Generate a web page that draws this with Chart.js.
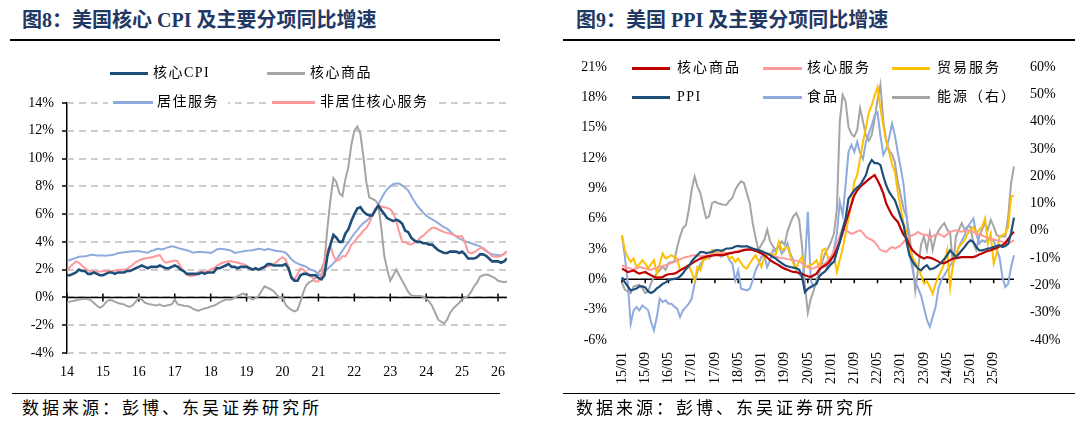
<!DOCTYPE html>
<html lang="zh-CN">
<head>
<meta charset="utf-8">
<title>美国核心 CPI 与 PPI 分项同比增速</title>
<script src="https://cdn.jsdelivr.net/npm/chart.js@4.4.1/dist/chart.umd.min.js"></script>
<style>
  html, body { margin: 0; padding: 0; background: #fff; }
  #page {
    position: relative; width: 1080px; height: 424px; overflow: hidden;
    font-family: "Liberation Serif", "Noto Sans CJK SC", serif;
  }
  .title {
    position: absolute; top: 8px; font-size: 20px; line-height: 24px;
    font-weight: bold; color: #1F3864; white-space: nowrap;
  }
  .rule { position: absolute; height: 0; border-top: 2.5px solid #000; }
  .rule.bottom { border-top-width: 1.5px; }
  .source {
    position: absolute; top: 399px; font-size: 17px; line-height: 20px;
    letter-spacing: 3px; color: #000; white-space: nowrap;
  }
  .chart-box { position: absolute; }
  .chart-box canvas { display: block; }
  .lg-line { position: absolute; height: 2.5px; }
  .lg-text {
    position: absolute; font-size: 14px; line-height: 16px; letter-spacing: 1.5px;
    color: #000; white-space: nowrap;
  }
  .lg-bg { position: absolute; background: #fff; height: 18px; }
</style>
</head>
<body>
<div id="page">
  <!-- 左图 -->
  <div class="title" style="left:22px">图8：美国核心 CPI 及主要分项同比增速</div>
  <div class="rule" style="left:10px; top:39px; width:490px"></div>

  <div class="chart-box" style="left:0; top:90px; width:530px; height:300px">
    <canvas id="cpi-chart" width="530" height="300"></canvas>
  </div>

  <!-- 左图图例 -->
  <div class="lg-line" style="left:110px; top:72px; width:38px; height:3px; background:#1F4E79"></div>
  <div class="lg-text" style="left:153px; top:65px">核心CPI</div>
  <div class="lg-line" style="left:267px; top:72px; width:38px; background:#A5A5A5"></div>
  <div class="lg-text" style="left:310px; top:65px">核心商品</div>
  <div class="lg-bg" style="left:108px; top:93px; width:120px"></div>
  <div class="lg-line" style="left:113px; top:101px; width:40px; background:#8FAADC"></div>
  <div class="lg-text" style="left:157px; top:94px">居住服务</div>
  <div class="lg-bg" style="left:268px; top:93px; width:170px"></div>
  <div class="lg-line" style="left:272px; top:101px; width:43px; background:#FF9999"></div>
  <div class="lg-text" style="left:320px; top:94px">非居住核心服务</div>

  <div class="rule bottom" style="left:12px; top:393px; width:488px"></div>
  <div class="source" style="left:22px">数据来源：彭博、东吴证券研究所</div>

  <!-- 右图 -->
  <div class="title" style="left:576px">图9：美国 PPI 及主要分项同比增速</div>
  <div class="rule" style="left:563px; top:39px; width:512px"></div>

  <div class="chart-box" style="left:560px; top:50px; width:520px; height:345px">
    <canvas id="ppi-chart" width="520" height="345"></canvas>
  </div>

  <!-- 右图图例 -->
  <div class="lg-line" style="left:632px; top:67px; width:38px; background:#C00000"></div>
  <div class="lg-text" style="left:677px; top:60px; letter-spacing:2px">核心商品</div>
  <div class="lg-line" style="left:763px; top:67px; width:39px; background:#FF9999"></div>
  <div class="lg-text" style="left:807px; top:60px; letter-spacing:2px">核心服务</div>
  <div class="lg-line" style="left:892px; top:67px; width:38px; background:#FFC000"></div>
  <div class="lg-text" style="left:937px; top:60px; letter-spacing:2px">贸易服务</div>
  <div class="lg-line" style="left:632px; top:96px; width:38px; background:#1F4E79"></div>
  <div class="lg-text" style="left:677px; top:89px">PPI</div>
  <div class="lg-line" style="left:763px; top:96px; width:39px; background:#8FAADC"></div>
  <div class="lg-text" style="left:807px; top:89px; letter-spacing:2px">食品</div>
  <div class="lg-line" style="left:892px; top:96px; width:38px; background:#A5A5A5"></div>
  <div class="lg-text" style="left:937px; top:89px; letter-spacing:2px">能源（右）</div>

  <div class="rule bottom" style="left:563px; top:393px; width:512px"></div>
  <div class="source" style="left:576px">数据来源：彭博、东吴证券研究所</div>
</div>

<script>
// ---------- 图8 数据：2014/01 - 2026/04，月度同比 % ----------
const cpiYearLabels = ["14", "15", "16", "17", "18", "19", "20", "21", "22", "23", "24", "25", "26"];

const coreCpi = [
  1.6, 1.6, 1.7, 1.8, 2.0, 1.9, 1.9, 1.7, 1.7, 1.8, 1.7, 1.6,
  1.6, 1.7, 1.8, 1.8, 1.7, 1.8, 1.8, 1.8, 1.9, 1.9, 2.0, 2.1,
  2.2, 2.3, 2.2, 2.1, 2.2, 2.2, 2.2, 2.3, 2.2, 2.1, 2.1, 2.2,
  2.3, 2.2, 2.0, 1.9, 1.7, 1.7, 1.7, 1.7, 1.7, 1.8, 1.7, 1.8,
  1.8, 1.8, 2.1, 2.1, 2.2, 2.3, 2.4, 2.2, 2.2, 2.1, 2.2, 2.2,
  2.2, 2.1, 2.0, 2.1, 2.0, 2.1, 2.2, 2.4, 2.4, 2.3, 2.3, 2.3,
  2.3, 2.4, 2.1, 1.4, 1.2, 1.2, 1.6, 1.7, 1.7, 1.6, 1.6, 1.6,
  1.4, 1.3, 1.6, 3.0, 3.8, 4.5, 4.3, 4.0, 4.0, 4.6, 4.9, 5.5,
  6.0, 6.4, 6.5, 6.2, 6.0, 5.9, 5.9, 6.3, 6.6, 6.3, 6.0, 5.7,
  5.6, 5.5, 5.6, 5.5, 5.3, 4.8, 4.7, 4.3, 4.1, 4.0, 4.0, 3.9,
  3.9, 3.8, 3.8, 3.6, 3.4, 3.3, 3.2, 3.2, 3.3, 3.3, 3.3, 3.2,
  3.3, 3.1, 2.8, 2.8, 2.8, 2.9, 3.1, 3.1, 3.0, 2.8, 2.6, 2.6,
  2.6, 2.5, 2.6, 2.8
];

const coreGoodsCpi = [
  -0.35, -0.3, -0.25, -0.2, -0.15, -0.12, -0.1, -0.12, -0.2, -0.4, -0.6, -0.74,
  -0.62, -0.35, -0.18, -0.2, -0.3, -0.4, -0.45, -0.5, -0.62, -0.67, -0.55, -0.3,
  -0.02, -0.15, -0.38, -0.45, -0.5, -0.55, -0.58, -0.5, -0.62, -0.6, -0.55, -0.5,
  -0.15, -0.5, -0.55, -0.6, -0.62, -0.67, -0.8, -0.9, -0.95, -0.86, -0.8, -0.74,
  -0.65, -0.6, -0.5, -0.35, -0.25, -0.15, -0.14, -0.14, -0.02, 0.1, 0.2, 0.29,
  0.1, 0.0, -0.14, -0.05, 0.1, 0.46, 0.8, 0.7, 0.6, 0.46, 0.2, 0.0,
  0.0, -0.5, -0.75, -0.9, -1.0, -0.9, -0.3, 0.4, 0.9, 1.1, 1.2, 1.4,
  1.8, 2.0, 2.6, 5.0, 7.0, 8.6, 8.3, 7.5, 7.3, 8.5, 9.4, 11.0,
  12.0, 12.3, 11.8, 10.2, 8.3, 7.2, 7.1, 7.0, 6.7, 5.0, 3.0, 2.0,
  1.2, 1.6, 2.0, 1.6, 1.2, 0.8, 0.4, 0.15, 0.1, 0.1, 0.1, 0.05,
  -0.1, -0.3, -0.62, -1.1, -1.6, -1.75, -1.87, -1.6, -1.1, -0.8, -0.6, -0.4,
  -0.14, -0.02, 0.1, 0.4, 0.8, 1.06, 1.5, 1.6, 1.65, 1.6, 1.5, 1.4,
  1.2, 1.15, 1.1, 1.15
];

const shelterCpi = [
  2.6, 2.7, 2.78, 2.85, 2.93, 2.95, 2.97, 3.0, 3.08, 3.06, 3.02, 3.02,
  3.02, 3.0, 3.03, 3.05, 3.1, 3.2, 3.22, 3.25, 3.28, 3.3, 3.32, 3.33,
  3.33, 3.3, 3.25, 3.22, 3.35, 3.4, 3.5, 3.48, 3.45, 3.55, 3.62, 3.68,
  3.65, 3.57, 3.5, 3.45, 3.4, 3.33, 3.22, 3.25, 3.28, 3.27, 3.25, 3.23,
  3.21, 3.3, 3.45, 3.5, 3.48, 3.45, 3.42, 3.35, 3.21, 3.25, 3.28, 3.33,
  3.37, 3.38, 3.4, 3.45, 3.5, 3.48, 3.4, 3.5, 3.45, 3.4, 3.35, 3.33,
  3.3, 3.22, 3.0, 2.75, 2.55, 2.45, 2.35, 2.28, 2.2, 2.05, 1.95, 1.89,
  1.6, 1.65, 1.85, 2.05, 2.25, 2.45, 2.7, 3.05, 3.35, 3.69, 3.95, 4.3,
  4.6, 4.85, 5.13, 5.35, 5.5, 5.7, 5.95, 6.21, 6.7, 7.1, 7.5, 7.8,
  8.0, 8.15, 8.2, 8.2, 8.05, 7.9, 7.7, 7.3, 6.95, 6.6, 6.35, 6.1,
  5.9, 5.75, 5.62, 5.5, 5.35, 5.2, 5.05, 4.95, 4.75, 4.55, 4.4, 4.25,
  4.15, 4.05, 3.97, 3.9, 3.83, 3.75, 3.68, 3.5, 3.35, 3.2, 3.12, 3.08,
  3.05, 3.02, 3.15, 3.33
];

const nonShelterServicesCpi = [
  1.9, 2.2, 2.4, 2.6, 2.5, 2.3, 2.1, 1.95, 1.9, 1.85, 1.85, 1.87,
  1.89, 1.88, 1.9, 1.9, 1.92, 1.97, 2.0, 2.0, 2.05, 2.2, 2.35, 2.55,
  2.65, 2.75, 2.8, 2.85, 2.88, 2.93, 3.0, 3.05, 2.7, 2.5, 2.55, 2.6,
  2.65, 2.6, 2.2, 1.9, 1.65, 1.55, 1.55, 1.6, 1.85, 1.78, 1.85, 1.9,
  2.0, 2.1, 2.25, 2.4, 2.5, 2.55, 2.6, 2.6, 2.55, 2.5, 2.45, 2.4,
  2.3, 2.1, 2.05, 2.0, 2.03, 2.1, 2.15, 2.25, 2.3, 2.4, 2.55, 2.75,
  2.9, 2.75, 2.2, 1.5, 1.3, 1.65, 2.1, 2.0, 1.8, 1.6, 1.45, 1.15,
  1.15, 1.6, 2.6, 3.45, 3.7, 3.0, 2.65, 2.7, 2.97, 2.97, 3.3, 3.8,
  4.0, 4.3, 4.53, 4.8, 5.0, 5.35, 5.9, 6.35, 6.65, 6.55, 6.5, 6.45,
  6.35, 6.1, 5.5, 4.7, 4.0, 4.0, 3.85, 3.81, 3.95, 4.05, 4.3, 4.45,
  4.65, 4.85, 5.01, 5.01, 4.9, 4.8, 4.7, 4.65, 4.6, 4.5, 4.41, 4.41,
  4.41, 3.95, 3.25, 3.17, 3.25, 3.4, 3.55, 3.57, 3.4, 3.2, 2.97, 2.93,
  2.93, 3.0, 3.1, 3.33
];

// ---------- 图9 数据：2015/01 - 2026/04，月度同比 % ----------
const ppiTickEvery = 8;
const ppiMonthLabels = [];
for (let i = 0; i < 136; i++) {
  const yy = 15 + Math.floor(i / 12);
  const mm = (i % 12) + 1;
  ppiMonthLabels.push(yy + "/" + String(mm).padStart(2, "0"));
}

const ppi = [
  0.2, -0.3, -0.7, -1.1, -1.0, -0.9, -0.7, -0.7, -0.8, -1.2, -1.35, -1.2,
  -0.9, -0.7, -0.45, -0.3, -0.1, 0.0, 0.05, 0.1, 0.3, 0.6, 1.0, 1.3,
  1.8, 2.1, 2.4, 2.7, 2.7, 2.6, 2.65, 2.7, 2.85, 2.9, 2.82, 2.9,
  3.05, 3.06, 3.1, 3.25, 3.3, 3.23, 3.25, 3.29, 3.16, 3.05, 2.96, 2.89,
  2.8, 2.65, 2.55, 2.4, 2.2, 2.05, 1.8, 1.6, 1.4, 1.3, 1.22, 1.16,
  1.1, 0.96, 0.3, -1.26, -0.95, -0.76, -0.6, -0.43, 0.3, 0.6, 0.8, 1.2,
  1.5, 1.72, 2.7, 3.7, 5.0, 6.0, 7.98, 8.4, 8.8, 9.1, 9.31, 9.8,
  10.3, 11.3, 11.8, 11.5, 11.5, 11.3, 10.2, 9.3, 8.65, 8.2, 7.82, 7.0,
  6.1, 5.35, 3.7, 2.38, 1.8, 1.39, 1.06, 0.89, 1.2, 1.4, 1.0, 1.06,
  1.2, 1.4, 1.7, 2.0, 2.4, 2.87, 2.54, 2.2, 2.5, 2.87, 3.2, 3.6,
  3.86, 3.7, 3.2, 2.87, 2.87, 2.95, 3.04, 3.1, 3.2, 3.3, 3.37, 3.2,
  3.3, 3.5, 4.6, 6.1
];

const ppiCoreGoods = [
  1.06, 0.9, 0.73, 0.8, 0.89, 0.7, 0.56, 0.65, 0.73, 0.55, 0.4, 0.25,
  0.17, 0.2, 0.23, 0.4, 0.5, 0.53, 0.56, 0.7, 0.89, 1.05, 1.2, 1.4,
  1.56, 1.75, 1.9, 2.05, 2.16, 2.25, 2.3, 2.35, 2.39, 2.39, 2.39, 2.4,
  2.5, 2.56, 2.62, 2.7, 2.72, 2.8, 2.89, 2.93, 2.96, 2.9, 2.82, 2.7,
  2.56, 2.4, 2.16, 1.9, 1.72, 1.55, 1.39, 1.2, 1.06, 0.95, 0.83, 0.73,
  0.7, 0.63, 0.55, 0.4, 0.3, 0.23, 0.4, 0.56, 1.0, 1.2, 1.39, 1.6,
  2.0, 2.37, 3.0, 3.7, 4.6, 5.6, 6.5, 7.4, 8.3, 8.8, 9.14, 9.4,
  9.64, 9.9, 10.1, 10.3, 9.8, 9.2, 8.5, 7.5, 6.9, 6.34, 6.0, 5.68,
  5.0, 4.4, 4.03, 3.37, 2.9, 2.6, 2.37, 2.2, 2.05, 2.2, 2.15, 2.05,
  1.9, 1.75, 1.6, 1.6, 1.73, 1.9, 2.05, 2.1, 2.15, 2.2, 2.2, 2.2,
  2.2, 2.2, 2.3, 2.45, 2.55, 2.7, 2.8, 2.87, 3.0, 3.1, 3.25, 3.37,
  3.6, 4.0, 4.4, 4.7
];

const ppiCoreServices = [
  1.39, 1.25, 1.16, 1.05, 0.96, 1.1, 1.22, 1.15, 1.06, 1.0, 0.96, 1.05,
  1.16, 1.25, 1.32, 1.39, 1.5, 1.6, 1.72, 1.85, 2.0, 2.1, 2.2, 2.25,
  2.35, 2.39, 2.35, 2.3, 2.3, 2.35, 2.39, 2.45, 2.49, 2.52, 2.56, 2.58,
  2.6, 2.62, 2.66, 2.72, 2.8, 2.89, 2.93, 2.96, 2.94, 2.89, 2.8, 2.75,
  2.72, 2.6, 2.49, 2.4, 2.3, 2.25, 2.16, 2.1, 2.06, 2.0, 1.95, 1.9,
  1.85, 1.82, 1.6, 1.39, 1.2, 1.06, 1.1, 1.22, 1.3, 1.39, 1.6, 1.9,
  2.3, 2.8, 3.5, 4.3, 5.0, 4.9, 4.7, 4.5, 4.6, 4.75, 4.85, 4.6,
  4.2, 4.03, 3.9, 3.7, 3.3, 2.9, 2.8, 2.71, 3.0, 3.2, 3.04, 3.2,
  3.37, 3.7, 4.03, 4.2, 4.36, 4.5, 4.69, 4.5, 4.36, 4.43, 4.03, 4.3,
  4.4, 4.52, 4.35, 4.2, 4.45, 4.7, 4.78, 4.85, 4.75, 4.7, 4.78, 4.85,
  4.8, 4.7, 4.52, 4.45, 4.36, 4.2, 4.1, 4.03, 3.95, 3.86, 3.8, 3.7,
  3.6, 3.53, 3.7, 3.86
];

const ppiTradeServices = [
  4.36, 2.87, 2.2, 1.72, 2.06, 1.22, 1.5, 1.9, 1.56, 1.06, 1.5, 1.9,
  0.56, 1.56, 2.56, 2.06, 2.2, 2.39, 2.2, 2.06, 0.89, 1.06, 1.2, 1.39,
  0.7, -0.1, 1.22, 0.89, 1.9, 2.0, 2.23, 2.89, 2.7, 2.56, 2.6, 2.72,
  2.4, 2.06, 2.23, 1.72, 2.06, 1.6, 1.22, 1.06, 1.56, 2.0, 2.39, 1.8,
  1.22, 2.23, 2.4, 2.56, 2.39, 2.5, 3.72, 2.89, 3.05, 3.23, 2.3, 1.56,
  1.06, 1.8, 2.23, 1.22, 1.3, 1.39, 1.6, 1.9, 1.06, 2.89, 3.04, 2.05,
  2.2, 2.37, 0.73, 1.9, 3.04, 4.5, 6.0, 7.65, 9.64, 10.3, 11.9, 13.6,
  15.0, 16.5, 17.2, 18.2, 19.0, 16.9, 15.2, 13.6, 12.6, 11.4, 10.6, 8.6,
  7.0, 5.5, 4.69, 3.04, 2.2, 1.7, 1.06, 0.4, -0.43, -0.2, -0.76, -1.42,
  -0.43, 0.23, 0.9, 1.56, 2.87, -0.76, 1.56, 2.4, 3.2, 3.5, 3.86, 4.52,
  4.8, 5.18, 4.52, 4.9, 5.18, 6.01, 3.53, 4.52, 1.56, 2.54, 4.2, 4.4,
  4.52, 5.18, 8.15, 8.3
];

const ppiFood = [
  4.36, 2.23, -0.43, -4.39, -3.07, -2.74, -3.07, -2.58, -2.8, -3.07, -4.22, -5.05,
  -3.73, -1.91, -2.25, -2.08, -2.41, -2.41, -2.7, -2.9, -3.73, -3.07, -2.74, -2.41,
  -1.9, -0.43, 0.8, 1.5, 1.9, 2.23, 2.06, 2.39, 2.89, 2.56, 2.23, 2.4,
  2.56, 1.9, 1.56, -0.1, 0.89, -0.93, -1.0, -1.09, -0.93, -0.1, 0.89, 1.5,
  2.23, 2.39, 1.22, 1.9, 2.89, 2.72, 3.39, 2.56, 2.89, 3.56, 2.5, 1.9,
  0.89, 0.5, 0.23, 1.56, 6.67, -0.1, -0.76, -0.43, 0.8, 1.5, 1.5, 1.06,
  1.72, 3.04, 4.5, 7.66, 6.34, 9.31, 12.6, 13.3, 12.6, 13.6, 12.5, 11.9,
  13.6, 14.4, 15.2, 16.2, 16.5, 14.2, 12.3, 12.9, 14.0, 15.4, 14.2, 12.5,
  11.0, 9.31, 6.34, 2.7, 1.06, -0.26, -0.9, -1.6, -2.8, -4.0, -4.7, -3.73,
  -2.74, -0.9, 0.0, 0.4, 0.9, 1.39, 1.8, 2.2, 3.2, 3.8, 4.36, 5.18,
  5.6, 6.01, 4.52, 3.53, 3.86, 3.7, 4.03, 3.86, 3.86, 3.0, 2.2, 0.23,
  -0.76, -0.43, 1.22, 2.38
];

// 能源走右轴
const ppiEnergy = [
  -19, -21.6, -22.2, -22.8, -20.4, -20, -19.8, -21, -22.8, -22.2, -19.2, -17,
  -15.5, -14.5, -13.1, -14.3, -11.8, -11.5, -11.2, -6, -2, 1.0, 2.0, 7.7,
  15.0, 19.9, 16.2, 13.8, 8.9, 4.6, 5.3, 10.1, 10.7, 10.1, 9.8, 9.5,
  9.5, 11, 12.0, 15, 16.8, 18.1, 17.5, 13.8, 10.1, 2.8, -2.5, -7.0,
  -5.1, -3.3, 0.4, -3.9, -5.7, -7.0, -5.5, -3.9, -5.1, -0.2, 2.8, 5.3,
  6.5, 4.1, -5.7, -20, -30, -25, -22, -18, -15, -11.2, -8, -6.3,
  -4, -1, 8, 40, 49.8, 47.4, 38, 35.5, 34.5, 37, 44.9, 40,
  35, 33, 35, 41, 48, 53.5, 40, 33, 29.5, 28, 25, 18,
  13, 8, 5, -1.5, -11, -22, -13.7, -5, -2.1, -7, -0.8, -7,
  -2.1, 0, 1.6, 2.8, 0.4, -0.8, -13.1, -2.1, 0.4, 2.8, 0.4, 1.6,
  1.6, -4.5, -7.0, -2.1, 0.4, 2.8, 0.4, 4.0, 1.6, -1.5, -2.1, -2.1,
  -2.1, 5.2, 17.5, 23.6
];

// ---------- 公共样式 ----------
const axisFont = { family: "'Liberation Serif', 'Times New Roman', serif", size: 14 };

// y 轴标签和轴之间的空隙用透明刻度撑开（ticks.padding 会把绘图区顶部往下挤）
function spacerGrid(len) {
  return {
    display: true,
    drawOnChartArea: false,
    drawTicks: true,
    tickLength: len,
    tickColor: "rgba(0,0,0,0)",
    color: "rgba(0,0,0,0)",
  };
}

// 左图的虚线网格和 y 轴小刻度，按 y 轴刻度逐条画
const dashedGrid = {
  id: "dashedGrid",
  beforeDatasetsDraw(chart) {
    const { ctx, chartArea, scales } = chart;
    ctx.save();
    scales.y.ticks.forEach((t) => {
      const y = Math.round(scales.y.getPixelForValue(t.value));
      ctx.strokeStyle = "#BDBDBD";
      ctx.lineWidth = 1.7;
      ctx.setLineDash([7, 5]);
      ctx.beginPath();
      ctx.moveTo(chartArea.left, y);
      ctx.lineTo(chartArea.right, y);
      ctx.stroke();
      // 轴外侧的黑色短刻度
      ctx.setLineDash([]);
      ctx.strokeStyle = "#000";
      ctx.lineWidth = 1.5;
      ctx.beginPath();
      ctx.moveTo(chartArea.left - 5, y);
      ctx.lineTo(chartArea.left, y);
      ctx.stroke();
    });
    ctx.restore();
  },
};

// 0 轴横线 + 刻度（图里的横轴画在 0% 位置）
function zeroAxis(tickValues, up, down) {
  return {
    id: "zeroAxis",
    beforeDatasetsDraw(chart) {
      const { ctx, chartArea, scales } = chart;
      const y = scales.y.getPixelForValue(0);
      ctx.save();
      ctx.strokeStyle = "#000";
      ctx.lineWidth = 1.5;
      ctx.beginPath();
      ctx.moveTo(chartArea.left, y);
      ctx.lineTo(chartArea.right, y);
      tickValues.forEach((v) => {
        const x = scales.x.getPixelForValue(v);
        ctx.moveTo(x, y - up);
        ctx.lineTo(x, y + down);
      });
      ctx.stroke();
      ctx.restore();
    },
  };
}

function lineSet(label, values, color, width, extra) {
  return Object.assign(
    {
      label: label,
      data: values,
      borderColor: color,
      backgroundColor: color,
      borderWidth: width,
      pointRadius: 0,
      tension: 0,
      fill: false,
    },
    extra || {}
  );
}

// ---------- 图8 ----------
const toXY = (arr) => arr.map((v, i) => ({ x: i, y: v }));
const yearTicks = cpiYearLabels.map((_, i) => i * 12);

new Chart(document.getElementById("cpi-chart"), {
  type: "line",
  data: {
    datasets: [
      lineSet("核心CPI", toXY(coreCpi), "#1F4E79", 2.6),
      lineSet("非居住核心服务", toXY(nonShelterServicesCpi), "#FF9999", 2),
      lineSet("居住服务", toXY(shelterCpi), "#8FAADC", 2),
      lineSet("核心商品", toXY(coreGoodsCpi), "#A5A5A5", 2),
    ],
  },
  options: {
    responsive: false,
    animation: false,
    layout: { padding: { left: 0, right: 23, top: 13, bottom: 0 } },
    plugins: { legend: { display: false }, tooltip: { enabled: false } },
    scales: {
      x: {
        type: "linear",
        min: 0,
        max: coreCpi.length - 1,
        afterFit: (s) => { s.height = 37; },
        grid: { display: false, drawTicks: false },
        border: { display: false },
        ticks: {
          stepSize: 12,
          includeBounds: false,
          maxRotation: 0,
          autoSkip: false,
          padding: 11,
          color: "#000",
          font: axisFont,
          callback: (v) => (v % 12 === 0 ? cpiYearLabels[v / 12] : ""),
        },
      },
      y: {
        min: -4,
        max: 14,
        afterFit: (s) => { s.width = 67; },
        grid: spacerGrid(9),
        border: { display: true, color: "#000", width: 1.5 },
        ticks: {
          stepSize: 2,
          padding: 4,
          color: "#000",
          font: axisFont,
          callback: (v) => v + "%",
        },
      },
    },
  },
  plugins: [dashedGrid, zeroAxis(yearTicks, 4, 4)],
});

// ---------- 图9 ----------
const monthTicks = ppiMonthLabels.map((_, i) => i).filter((i) => i % ppiTickEvery === 0);

new Chart(document.getElementById("ppi-chart"), {
  type: "line",
  data: {
    labels: ppiMonthLabels,
    datasets: [
      lineSet("PPI", ppi, "#1F4E79", 2.2),
      lineSet("核心商品", ppiCoreGoods, "#C00000", 2.2),
      lineSet("核心服务", ppiCoreServices, "#FF9999", 2),
      lineSet("贸易服务", ppiTradeServices, "#FFC000", 2),
      lineSet("食品", ppiFood, "#8FAADC", 2),
      lineSet("能源（右）", ppiEnergy, "#A5A5A5", 2, { yAxisID: "y2" }),
    ],
  },
  options: {
    responsive: false,
    animation: false,
    layout: { padding: { left: 0, right: 0, top: 17, bottom: 0 } },
    plugins: { legend: { display: false }, tooltip: { enabled: false } },
    scales: {
      x: {
        type: "category",
        offset: false,
        afterFit: (s) => { s.height = 55; },
        grid: { display: false, drawTicks: false },
        border: { display: false },
        ticks: {
          autoSkip: false,
          minRotation: 90,
          maxRotation: 90,
          padding: 12,
          color: "#000",
          font: axisFont,
          callback: (v, i) => (i % ppiTickEvery === 0 ? ppiMonthLabels[i] : ""),
        },
      },
      y: {
        position: "left",
        min: -6,
        max: 21,
        afterFit: (s) => { s.width = 62; },
        grid: spacerGrid(11),
        border: { display: false },
        ticks: { stepSize: 3, padding: 4, color: "#000", font: axisFont, callback: (v) => v + "%" },
      },
      y2: {
        position: "right",
        min: -40,
        max: 60,
        afterFit: (s) => { s.width = 66; },
        grid: spacerGrid(12),
        border: { display: false },
        ticks: { stepSize: 10, padding: 4, color: "#000", font: axisFont, callback: (v) => v + "%" },
      },
    },
  },
  plugins: [zeroAxis(monthTicks, 0, 4)],
});
</script>
</body>
</html>
